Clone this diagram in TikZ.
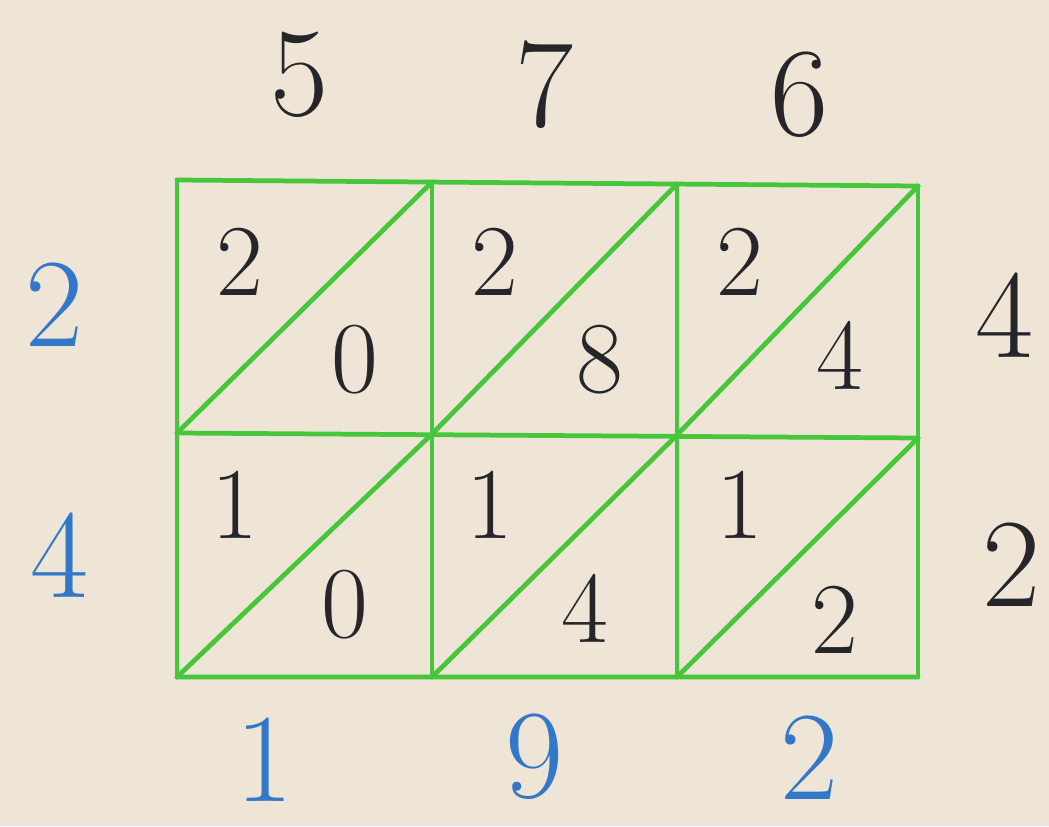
\documentclass[tikz,border=0pt]{standalone}
\usepackage{tikz}
\definecolor{paper}{HTML}{EEE5D6}
\definecolor{gridgreen}{HTML}{46C63A}
\definecolor{inkblue}{HTML}{3378C8}
\definecolor{inkdark}{HTML}{26262A}
\usetikzlibrary{positioning}

\begin{document}
\begin{tikzpicture}[x=0.02cm,y=-0.02cm,
                    gline/.style={draw=gridgreen,line width=2.7pt,line cap=round},
                    outer/.style={font=\fontsize{72}{72}\selectfont,inner sep=0pt},
                    inner/.style={font=\fontsize{58}{58}\selectfont,inner sep=0pt,text=inkdark}]
    \fill[paper] (0,0) rectangle (1049,826);
    \useasboundingbox (0,0) rectangle (1049,826);

    % grid corners
    \coordinate (a0) at (177,180); \coordinate (a1) at (432,182);
    \coordinate (a2) at (677,184); \coordinate (a3) at (918,186);
    \coordinate (b0) at (177,433); \coordinate (b1) at (432,434);
    \coordinate (b2) at (677,435); \coordinate (b3) at (918,438);
    \coordinate (c0) at (177,677); \coordinate (c1) at (432,677);
    \coordinate (c2) at (677,677); \coordinate (c3) at (918,677);

    \draw[gline] (a0) -- (a3) (b0) -- (b3) (c0) -- (c3);
    \draw[gline] (a0) -- (c0) (a1) -- (c1) (a2) -- (c2) (a3) -- (c3);
    \draw[gline] (b0) -- (a1) (b1) -- (a2) (b2) -- (a3);
    \draw[gline] (c0) -- (b1) (c1) -- (b2) (c2) -- (b3);

    % factors
    \node[outer,text=inkdark] (t1) at (300,75) {5};
    \node[outer,text=inkdark] (t2) at (545,85) {7};
    \node[outer,text=inkdark] (t3) at (800,95) {6};
    \node[outer,text=inkblue] (l1) at (55,305) {2};
    \node[outer,text=inkblue] (l2) at (60,555) {4};
    \node[outer,text=inkdark] (r1) at (1005,315) {4};
    \node[outer,text=inkdark] (r2) at (1012,565) {2};

    % cell products
    \node[inner] (p11) at (240,262) {2}; \node[inner] (q11) at (355,360) {0};
    \node[inner] (p12) at (495,262) {2}; \node[inner] (q12) at (600,360) {8};
    \node[inner] (p13) at (740,262) {2}; \node[inner] (q13) at (840,355) {4};
    \node[inner] (p21) at (235,505) {1}; \node[inner] (q21) at (345,605) {0};
    \node[inner] (p22) at (490,505) {1}; \node[inner] (q22) at (585,608) {4};
    \node[inner] (p23) at (740,505) {1}; \node[inner] (q23) at (835,620) {2};

    % result
    \node[outer,text=inkblue] (s1) at (265,760) {1};
    \node[outer,text=inkblue] (s2) at (535,757) {9};
    \node[outer,text=inkblue] (s3) at (810,758) {2};
  \end{tikzpicture}
\end{document}
